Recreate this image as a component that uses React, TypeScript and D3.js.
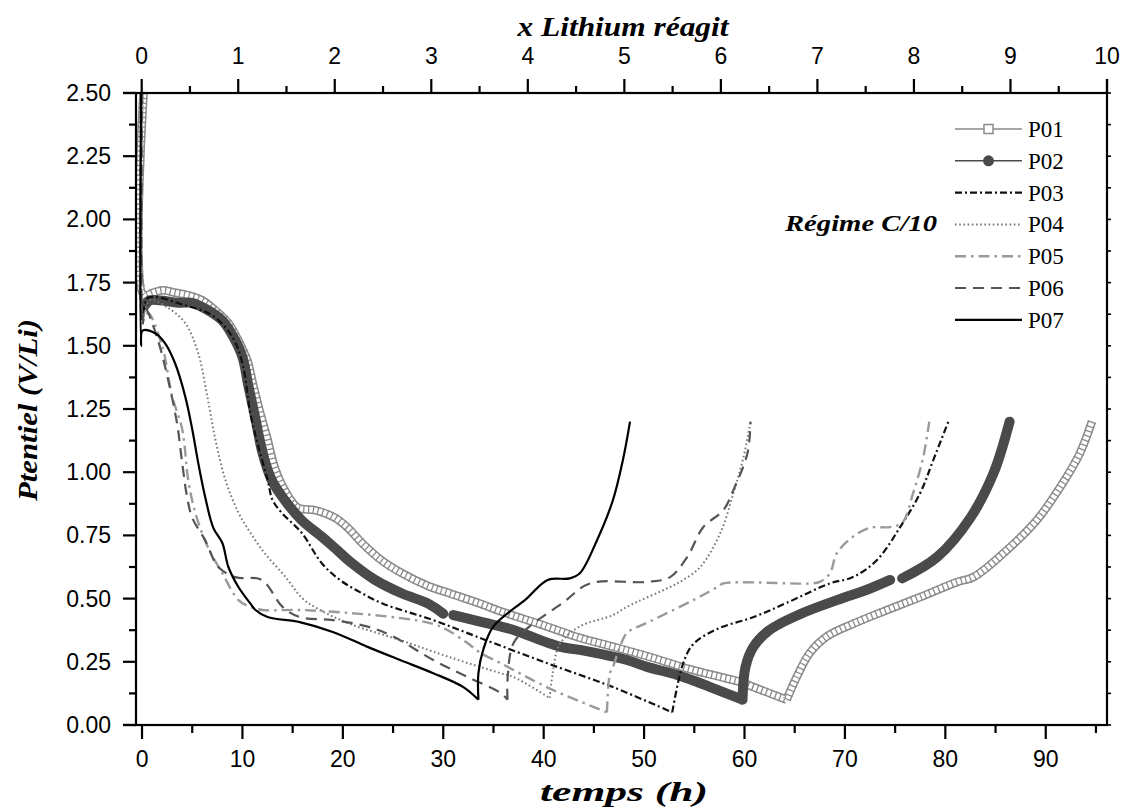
import React from 'react';
import * as d3 from 'd3';

type Pt = [number, number] | null;

// temps (h), potentiel (V/Li)
const P01: Pt[] = [
  [0.15, 2.5], [0.15, 1.7], [1.1, 1.71], [2.1, 1.72], [3.3, 1.71], [4.6, 1.7], [6.0, 1.68], [7.3, 1.64],
  [8.6, 1.59], [9.6, 1.52], [10.5, 1.44], [11.1, 1.34], [11.8, 1.23], [12.5, 1.13], [13.2, 1.02],
  [14.2, 0.93], [15.5, 0.86], [17.2, 0.85], [19.2, 0.82], [20.5, 0.78], [21.9, 0.72], [23.9, 0.65],
  [25.9, 0.6], [28.5, 0.55], [30.7, 0.52], [33.7, 0.48], [35.7, 0.45], [40.3, 0.39], [43.6, 0.345],
  [46.9, 0.31], [50.5, 0.27], [54.6, 0.22], [57.6, 0.19], [59.6, 0.17], [60.9, 0.15], [64.2, 0.1],
  [65.2, 0.19], [66.5, 0.285], [68.2, 0.35], [70.8, 0.4], [74.2, 0.455], [77.5, 0.506], [81.2, 0.566],
  [82.8, 0.585], [85.8, 0.68], [89.1, 0.81], [91.7, 0.957], [93.4, 1.075], [94.6, 1.2],
];

const P02: Pt[] = [
  [0.3, 1.66], [0.8, 1.68], [3.6, 1.67], [5.0, 1.67], [6.6, 1.64], [8.0, 1.6], [9.1, 1.535],
  [10.0, 1.456], [10.6, 1.34], [11.3, 1.21], [12.0, 1.076], [12.9, 0.97], [14.2, 0.89], [15.9, 0.81],
  [17.9, 0.745], [19.2, 0.7], [20.9, 0.64], [23.2, 0.574], [25.9, 0.52], [28.5, 0.48], [30.0, 0.44],
  null,
  [31.0, 0.435], [35.7, 0.39], [37.0, 0.376], [41.6, 0.31], [43.6, 0.297], [48.3, 0.257], [50.3, 0.23],
  [53.3, 0.198], [55.3, 0.17], [56.6, 0.15], [59.8, 0.1], [60.1, 0.23], [60.9, 0.31], [62.5, 0.376],
  [65.8, 0.443], [69.2, 0.494], [72.5, 0.54], [74.5, 0.574],
  null,
  [75.7, 0.58], [79.2, 0.665], [82.5, 0.82], [84.8, 0.996], [86.4, 1.2],
];

const P03: Pt[] = [
  [0.0, 2.5], [0.05, 1.62], [0.6, 1.69], [4.3, 1.66], [7.0, 1.62], [9.0, 1.535], [10.0, 1.43],
  [10.8, 1.23], [11.6, 1.1], [12.5, 0.97], [13.0, 0.89], [13.9, 0.84], [15.9, 0.76], [17.9, 0.64],
  [19.7, 0.574], [21.5, 0.53], [24.0, 0.48], [29.0, 0.415], [33.3, 0.35], [40.3, 0.245], [46.9, 0.15],
  [52.8, 0.05], [53.9, 0.245], [54.9, 0.32], [57.3, 0.38], [60.9, 0.427], [64.2, 0.483], [68.5, 0.56],
  [70.8, 0.585], [73.2, 0.653], [75.5, 0.783], [77.5, 0.918], [78.8, 1.048], [80.3, 1.2],
];

const P04: Pt[] = [
  [0.1, 2.5], [0.1, 1.62], [0.8, 1.68], [2.6, 1.65], [4.3, 1.59], [5.6, 1.47], [6.5, 1.3], [7.3, 1.13],
  [8.3, 0.97], [9.6, 0.84], [10.8, 0.76], [12.2, 0.68], [14.2, 0.59], [16.0, 0.5], [17.5, 0.46],
  [20.7, 0.4], [25.7, 0.336], [30.5, 0.27], [35.7, 0.205], [37.0, 0.19], [40.6, 0.107], [40.9, 0.205],
  [41.6, 0.32], [43.6, 0.39], [46.9, 0.435], [48.3, 0.468], [52.6, 0.546], [53.9, 0.574], [55.6, 0.625],
  [57.6, 0.76], [58.9, 0.918], [59.9, 1.06], [60.6, 1.2],
];

const P05: Pt[] = [
  [0.05, 2.5], [0.1, 1.6], [0.6, 1.63], [2.0, 1.5], [3.0, 1.3], [4.0, 1.17], [4.6, 0.97], [5.3, 0.84],
  [6.6, 0.7], [8.0, 0.6], [9.6, 0.494], [10.8, 0.467], [12.0, 0.455], [15.7, 0.455], [20.7, 0.443],
  [25.7, 0.423], [29.0, 0.4], [30.4, 0.376], [32.4, 0.324], [33.7, 0.285], [35.7, 0.245], [40.3, 0.15],
  [46.3, 0.05], [46.6, 0.205], [46.9, 0.23], [47.6, 0.31], [48.3, 0.364], [50.6, 0.41], [54.9, 0.494],
  [57.3, 0.546], [57.9, 0.56], [66.5, 0.56], [67.5, 0.566], [68.5, 0.6], [69.2, 0.68], [70.8, 0.745],
  [72.5, 0.78], [74.5, 0.783], [75.7, 0.8], [76.8, 0.918], [77.8, 1.06], [78.4, 1.2],
];

const P06: Pt[] = [
  [0.0, 2.5], [0.05, 1.58], [0.3, 1.65], [1.6, 1.52], [2.6, 1.365], [3.5, 1.19], [4.0, 1.036], [4.5, 0.9],
  [5.0, 0.82], [6.3, 0.73], [7.6, 0.625], [9.3, 0.585], [11.9, 0.574], [14.0, 0.467], [15.7, 0.427],
  [19.0, 0.415], [22.4, 0.39], [25.0, 0.35], [29.0, 0.257], [32.4, 0.19], [35.7, 0.127], [36.4, 0.1],
  [36.4, 0.18], [37.0, 0.324], [38.6, 0.39], [41.9, 0.483], [44.6, 0.56], [50.3, 0.566], [52.6, 0.585],
  [54.3, 0.665], [55.9, 0.783], [57.9, 0.85], [58.9, 0.93], [60.3, 1.076], [60.6, 1.2],
];

const P07: Pt[] = [
  [-0.1, 2.5], [-0.1, 1.5], [0.05, 1.56], [1.3, 1.55], [2.3, 1.51], [3.3, 1.43], [4.3, 1.3], [5.0, 1.17],
  [5.6, 1.036], [6.3, 0.9], [7.1, 0.78], [8.0, 0.72], [8.6, 0.625], [9.6, 0.546], [10.8, 0.48],
  [11.3, 0.455], [12.5, 0.427], [15.7, 0.407], [19.0, 0.368], [22.4, 0.31], [25.7, 0.257], [29.0, 0.205],
  [32.0, 0.15], [33.5, 0.1], [33.5, 0.205], [34.0, 0.3], [35.0, 0.39], [38.3, 0.5], [40.4, 0.574],
  [42.6, 0.58], [43.6, 0.6], [45.3, 0.73], [46.9, 0.89], [47.9, 1.05], [48.6, 1.2],
];

const NAMES = ['P01', 'P02', 'P03', 'P04', 'P05', 'P06', 'P07'];
const SERIES_DATA = [P01, P02, P03, P04, P05, P06, P07];

const BOTTOM_MAJOR = [0, 10, 20, 30, 40, 50, 60, 70, 80, 90];
const BOTTOM_MINOR = [5, 15, 25, 35, 45, 55, 65, 75, 85, 95];
const TOP_MAJOR = [0, 1, 2, 3, 4, 5, 6, 7, 8, 9, 10];
const TOP_MINOR = [0.5, 1.5, 2.5, 3.5, 4.5, 5.5, 6.5, 7.5, 8.5, 9.5];
const LEFT_MAJOR = [0, 0.25, 0.5, 0.75, 1, 1.25, 1.5, 1.75, 2, 2.25, 2.5];
const LEFT_MINOR = [0.125, 0.375, 0.625, 0.875, 1.125, 1.375, 1.625, 1.875, 2.125, 2.375];

const W = 1125;
const H = 809;
const L = 136, R = 1107, T = 93, B = 725;

const SERIF = '"Liberation Serif", "Times New Roman", serif';
const SANS = '"Liberation Sans", Arial, sans-serif';

// line styles per series (P01 and P02 are drawn as marker bands)
const STYLES: { stroke: string; width: number; dash?: string }[] = [
  { stroke: '#8a8a8a', width: 1.5 },
  { stroke: '#4a4a4a', width: 1.5 },
  { stroke: '#111', width: 2.2, dash: '7 3 2 3' },
  { stroke: '#777', width: 2, dash: '1.6 2.6' },
  { stroke: '#9a9a9a', width: 2.4, dash: '11 5 2.5 5' },
  { stroke: '#555', width: 2.2, dash: '11 7' },
  { stroke: '#000', width: 2.2 },
];

// discharge / charge branches split at the lowest potential, so the turn stays sharp
const branches = (data: Pt[]): Pt[][] => {
  let k = 0;
  data.forEach((d, i) => {
    const m = data[k];
    if (d && (!m || d[1] < m[1])) k = i;
  });
  return [data.slice(0, k + 1), data.slice(k)];
};

export default function App() {
  const x = d3.scaleLinear().domain([-0.6, 96.1]).range([L, R]);
  const xTop = d3.scaleLinear().domain([-0.059, 10]).range([L, R]);
  const y = d3.scaleLinear().domain([0, 2.5]).range([B, T]);

  const line = d3
    .line<Pt>()
    .defined(d => d !== null)
    .x(d => x((d as [number, number])[0]))
    .y(d => y((d as [number, number])[1]))
    .curve(d3.curveCatmullRom.alpha(0.5));

  const pathOf = (data: Pt[]) => branches(data).map(b => line(b) || '').join('');

  const legendY = (i: number) => 129 + i * 31.8;
  const p01 = pathOf(P01);

  return (
    <div style={{ position: 'absolute', left: 0, top: 0 }}>
      <svg width={W} height={H} style={{ display: 'block', background: '#fff' }}>
        <defs>
          <clipPath id="plot">
            <rect x={L} y={T} width={R - L} height={B - T} />
          </clipPath>
        </defs>

        <g clipPath="url(#plot)" fill="none">
          {/* P01 : open squares, drawn as a chained band */}
          <path d={p01} stroke="#8a8a8a" strokeWidth={8.5} strokeLinejoin="round" />
          <path d={p01} stroke="#fff" strokeWidth={5.5} strokeLinejoin="round" />
          <path d={p01} stroke="#8a8a8a" strokeWidth={8.5} strokeDasharray="1.3 3.5" />
          {/* P02 : filled circles, dense */}
          <path
            d={pathOf(P02)}
            stroke="#4a4a4a"
            strokeWidth={10}
            strokeLinecap="round"
            strokeLinejoin="round"
          />
          {SERIES_DATA.slice(2).map((data, k) => {
            const s = STYLES[k + 2];
            return (
              <path
                key={NAMES[k + 2]}
                d={pathOf(data)}
                stroke={s.stroke}
                strokeWidth={s.width}
                strokeDasharray={s.dash}
                strokeLinejoin="round"
              />
            );
          })}
        </g>

        {/* frame */}
        <rect x={L} y={T} width={R - L} height={B - T} fill="none" stroke="#000" strokeWidth={2.2} />
        <rect x={L - 13} y={T - 1.1} width={13} height={2.2} fill="#000" />
        <rect x={L - 13} y={B - 1.1} width={13} height={2.2} fill="#000" />
        <rect x={R - 1.1} y={T - 14} width={2.2} height={14} fill="#000" />

        {/* ticks drawn as small filled rects */}
        <g fill="#000">
          {BOTTOM_MAJOR.map(v => (
            <rect key={'bM' + v} x={x(v) - 1.1} y={B} width={2.2} height={14} />
          ))}
          {BOTTOM_MINOR.map(v => (
            <rect key={'bm' + v} x={x(v) - 1.1} y={B} width={2.2} height={8} />
          ))}
          {TOP_MAJOR.map(v => (
            <rect key={'tM' + v} x={xTop(v) - 1.1} y={T - 14} width={2.2} height={14} />
          ))}
          {TOP_MINOR.map(v => (
            <rect key={'tm' + v} x={xTop(v) - 1.1} y={T - 7} width={2.2} height={7} />
          ))}
          {LEFT_MAJOR.map(v => (
            <rect key={'lM' + v} x={L - 13} y={y(v) - 1.1} width={13} height={2.2} />
          ))}
          {LEFT_MINOR.map(v => (
            <rect key={'lm' + v} x={L - 7} y={y(v) - 1.1} width={7} height={2.2} />
          ))}
          {[...LEFT_MAJOR, ...LEFT_MINOR].map(v => (
            <rect key={'r' + v} x={R} y={y(v) - 0.8} width={4} height={1.6} />
          ))}
        </g>

        <g fontFamily={SANS} fontSize={23} fill="#000">
          {BOTTOM_MAJOR.map(v => (
            <text key={'bl' + v} x={x(v)} y={767} textAnchor="middle">
              {v}
            </text>
          ))}
          {TOP_MAJOR.map(v => (
            <text key={'tl' + v} x={xTop(v)} y={64} textAnchor="middle">
              {v}
            </text>
          ))}
          {LEFT_MAJOR.map(v => (
            <text key={'ll' + v} x={111} y={y(v) + 8} textAnchor="end">
              {d3.format('.2f')(v)}
            </text>
          ))}
        </g>

        {/* axis titles */}
        <g fontFamily={SERIF} fontWeight="bold" fontStyle="italic" fontSize={28} fill="#000">
          <text x={623} y={36} textAnchor="middle" textLength={211} lengthAdjust="spacingAndGlyphs">
            x Lithium réagit
          </text>
          <text x={624} y={801} textAnchor="middle" textLength={168} lengthAdjust="spacingAndGlyphs">
            temps (h)
          </text>
          <text
            transform="translate(37, 410) rotate(-90)"
            textAnchor="middle"
            textLength={182}
            lengthAdjust="spacingAndGlyphs"
          >
            Ptentiel (V/Li)
          </text>
          <text x={861} y={231} textAnchor="middle" fontSize={23} textLength={152} lengthAdjust="spacingAndGlyphs">
            Régime C/10
          </text>
        </g>

        {/* legend */}
        {NAMES.map((n, i) => {
          const s = STYLES[i];
          const ly = legendY(i);
          return (
            <g key={'lg' + n}>
              <line
                x1={955}
                x2={1022}
                y1={ly}
                y2={ly}
                stroke={s.stroke}
                strokeWidth={i < 2 ? 1.5 : s.width}
                strokeDasharray={s.dash}
              />
              {i === 0 && (
                <rect x={984} y={ly - 4.5} width={9} height={9} fill="#fff" stroke="#8a8a8a" strokeWidth={1.5} />
              )}
              {i === 1 && <circle cx={988.5} cy={ly} r={5.5} fill="#4a4a4a" />}
              <text x={1028} y={ly + 8} fontFamily={SERIF} fontSize={23} fill="#000">
                {n}
              </text>
            </g>
          );
        })}
      </svg>
    </div>
  );
}
